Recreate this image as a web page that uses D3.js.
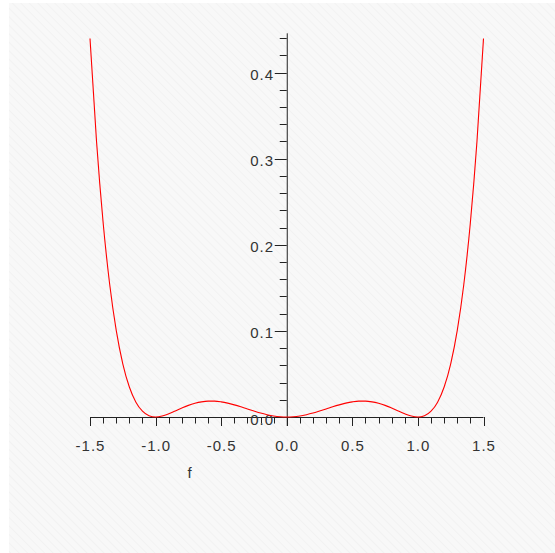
<!DOCTYPE html>
<html>
<head>
<meta charset="utf-8">
<script src="https://cdn.jsdelivr.net/npm/d3@7"></script>
<style>
  html, body { margin: 0; padding: 0; background: #ffffff; }
  svg { display: block; }
  text { font-family: "Liberation Sans", Arial, sans-serif; fill: #333; letter-spacing: 1px; }
</style>
</head>
<body>
<script>
// Sample points of the plotted function (f, value)
const fValues = [
  -1.5, -1.45, -1.4, -1.35, -1.3, -1.25, -1.2, -1.15, -1.1, -1.05,
  -1.0, -0.95, -0.9, -0.85, -0.8, -0.75, -0.7, -0.65, -0.6, -0.55,
  -0.5, -0.45, -0.4, -0.35, -0.3, -0.25, -0.2, -0.15, -0.1, -0.05,
  0.0, 0.05, 0.1, 0.15, 0.2, 0.25, 0.3, 0.35, 0.4, 0.45,
  0.5, 0.55, 0.6, 0.65, 0.7, 0.75, 0.8, 0.85, 0.9, 0.95,
  1.0, 1.05, 1.1, 1.15, 1.2, 1.25, 1.3, 1.35, 1.4, 1.45, 1.5
];
const yValues = [
  0.4395, 0.3195, 0.2258, 0.1541, 0.1006, 0.0618, 0.0348, 0.0172, 0.0067, 0.0014,
  0.0, 0.0011, 0.0037, 0.0070, 0.0104, 0.0135, 0.0159, 0.0176, 0.0184, 0.0184,
  0.0176, 0.0161, 0.0141, 0.0118, 0.0093, 0.0069, 0.0046, 0.0027, 0.0012, 0.0003,
  0.0, 0.0003, 0.0012, 0.0027, 0.0046, 0.0069, 0.0093, 0.0118, 0.0141, 0.0161,
  0.0176, 0.0184, 0.0184, 0.0176, 0.0159, 0.0135, 0.0104, 0.0070, 0.0037, 0.0011,
  0.0, 0.0014, 0.0067, 0.0172, 0.0348, 0.0618, 0.1006, 0.1541, 0.2258, 0.3195, 0.4395
];
const xTickLabels = ["-1.5", "-1.0", "-0.5", "0.0", "0.5", "1.0", "1.5"];
const yTickLabels = ["0.0", "0.1", "0.2", "0.3", "0.4"];
const xAxisTitle = "f";

const W = 555, H = 553;
const svg = d3.select("body").append("svg").attr("width", W).attr("height", H);

// Paper background with faint diagonal hatch
const defs = svg.append("defs");
const pat = defs.append("pattern").attr("id", "hatch")
  .attr("width", 6).attr("height", 6)
  .attr("patternUnits", "userSpaceOnUse")
  .attr("patternTransform", "rotate(-45)");
pat.append("rect").attr("width", 6).attr("height", 6).attr("fill", "#f8f8f8");
pat.append("line").attr("x1", 0).attr("y1", 0).attr("x2", 0).attr("y2", 6)
  .attr("stroke", "#f2f2f2").attr("stroke-width", 2);
svg.append("rect").attr("x", 9).attr("y", 3).attr("width", W - 9).attr("height", H - 3)
  .attr("fill", "url(#hatch)");

const x = d3.scaleLinear().domain([-1.5, 1.5]).range([90, 483.5]);
const y = d3.scaleLinear().domain([0, 0.4]).range([417, 72.5]);
const yTop = 0.4455;

const axisColor = "#222";

// x axis line and ticks (pointing down)
const xMinor = d3.range(-15, 16).map(i => i / 10);
const gx = svg.append("g");
gx.append("line")
  .attr("x1", x(-1.5)).attr("x2", x(1.5))
  .attr("y1", y(0) + 0.5).attr("y2", y(0) + 0.5)
  .attr("stroke", axisColor).attr("stroke-width", 1);
gx.selectAll("line.tk").data(xMinor).join("line")
  .attr("class", "tk")
  .attr("x1", d => Math.round(x(d)) + 0.5).attr("x2", d => Math.round(x(d)) + 0.5)
  .attr("y1", y(0)).attr("y2", (d, i) => y(0) + (i % 5 === 0 ? 9 : 6.5))
  .attr("stroke", axisColor).attr("stroke-width", 1);
gx.selectAll("text").data(xTickLabels).join("text")
  .attr("x", d => x(+d) + 0.5)
  .attr("y", 450.5)
  .attr("text-anchor", "middle")
  .attr("font-size", 15)
  .text(d => d);
svg.append("text").attr("x", 190).attr("y", 478)
  .attr("text-anchor", "middle").attr("font-size", 15).text(xAxisTitle);

// y axis line and ticks (pointing left)
const yMinor = d3.range(0, 23).map(i => i / 50);
const gy = svg.append("g");
gy.append("line")
  .attr("x1", x(0) + 0.5).attr("x2", x(0) + 0.5)
  .attr("y1", y(yTop)).attr("y2", y(0) + 9)
  .attr("stroke", axisColor).attr("stroke-width", 1);
gy.selectAll("line.tk").data(yMinor).join("line")
  .attr("class", "tk")
  .attr("y1", d => Math.round(y(d)) + 0.5).attr("y2", d => Math.round(y(d)) + 0.5)
  .attr("x1", x(0)).attr("x2", (d, i) => x(0) - (i % 5 === 0 ? 12 : 7))
  .attr("stroke", axisColor).attr("stroke-width", 1);
gy.selectAll("text").data(yTickLabels).join("text")
  .attr("x", 274)
  .attr("y", d => y(+d) + 7.5)
  .attr("text-anchor", "end")
  .attr("font-size", 15)
  .text(d => d);

// function curve
const pts = fValues.map((f, i) => [f, yValues[i]]);
svg.append("path")
  .datum(pts)
  .attr("fill", "none")
  .attr("stroke", "#ff0000")
  .attr("stroke-width", 1.1)
  .attr("d", d3.line().x(d => x(d[0])).y(d => y(d[1])).curve(d3.curveMonotoneX));
</script>
</body>
</html>
